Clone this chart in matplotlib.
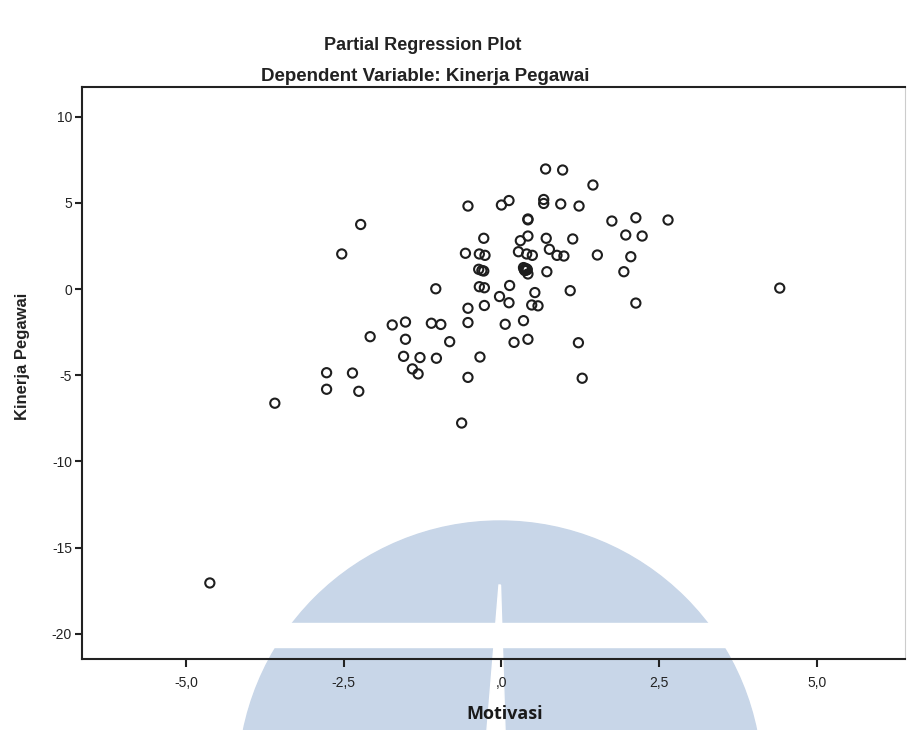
import matplotlib
matplotlib.use('Agg')
import matplotlib.pyplot as plt
from matplotlib.patches import Ellipse, Rectangle, Polygon

# residuals: Motivasi (x) vs Kinerja Pegawai (y)
motivasi = [
    -2.23, -2.53, 0.70, 0.97, 1.45, -0.53, 0.00, 0.12, 0.67, 0.67,
    0.94, 1.23, 1.75, 2.13, 2.64, 0.42, 0.42, -0.28, 0.30, 0.42,
    0.71, 1.13, 1.97, 2.23, -0.57, -0.35, -0.26, 0.27, 0.40, 0.49,
    0.76, 0.88, 0.99, 1.52, 2.05, -0.36, -0.31, -0.28, 0.35, 0.40,
    0.37, 0.42, 0.72, 1.94, -1.04, -0.35, -0.27, 0.13, 0.53, 1.09,
    -0.03, 0.12, 0.48, 0.58, 2.13, -0.53, -0.27, -1.73, -1.52, -1.11,
    -0.96, -0.53, 0.06, 0.35, -2.08, -1.52, -0.82, 0.20, 0.42, 1.22,
    -1.55, -1.29, -1.03, -0.34, -1.41, -1.32, -0.53, 1.28, -2.77, -2.36,
    -2.77, -2.26, -3.59, -0.63, -4.62, 4.41, 0.36, 0.39, 0.41, 0.38,
]
kinerja = [
    3.75, 2.04, 6.97, 6.91, 6.04, 4.82, 4.88, 5.14, 5.20, 4.97,
    4.94, 4.82, 3.95, 4.14, 4.01, 4.07, 4.02, 2.95, 2.81, 3.08,
    2.95, 2.91, 3.14, 3.08, 2.08, 2.04, 1.96, 2.17, 2.04, 1.96,
    2.31, 1.96, 1.92, 1.98, 1.88, 1.15, 1.08, 1.05, 1.25, 1.17,
    1.08, 0.88, 1.01, 1.01, 0.02, 0.14, 0.08, 0.21, -0.20, -0.09,
    -0.43, -0.79, -0.92, -0.97, -0.81, -1.11, -0.95, -2.08, -1.91, -1.98,
    -2.05, -1.94, -2.04, -1.83, -2.76, -2.91, -3.05, -3.09, -2.91, -3.11,
    -3.90, -3.97, -4.01, -3.94, -4.63, -4.92, -5.12, -5.17, -4.85, -4.87,
    -5.81, -5.93, -6.62, -7.77, -17.05, 0.06, 1.15, 1.10, 1.13, 1.20,
]

x_ticks = [-5, -2.5, 0, 2.5, 5]
x_tick_labels = ['-5,0', '-2,5', ',0', '2,5', '5,0']
y_ticks = [10, 5, 0, -5, -10, -15, -20]
y_tick_labels = ['10', '5', '0', '-5', '-10', '-15', '-20']

plt.rcParams['font.family'] = ['Liberation Sans', 'DejaVu Sans']

fig = plt.figure(figsize=(9.12, 7.30), dpi=100)
ax = fig.add_axes([0.0896, 0.0973, 0.9024, 0.7831])

ax.scatter(motivasi, kinerja, s=44, facecolors='none', edgecolors='#1e1e1e',
           linewidths=1.5, zorder=3)

ax.set_xlim(-6.65, 6.39)
ax.set_ylim(-21.46, 11.71)
ax.set_xticks(x_ticks)
ax.set_xticklabels(x_tick_labels)
ax.set_yticks(y_ticks)
ax.set_yticklabels(y_tick_labels)
ax.tick_params(axis='x', length=6, width=1.5, labelsize=10, pad=6, colors='#222')
ax.tick_params(axis='y', length=5, width=1.5, labelsize=10, pad=2, colors='#222')

for side in ['left', 'bottom', 'top']:
    ax.spines[side].set_linewidth(1.5)
    ax.spines[side].set_color('#222')
ax.spines['right'].set_linewidth(0.8)
ax.spines['right'].set_color('#cccccc')

ax.set_ylabel('Kinerja Pegawai', fontsize=12, fontweight='bold', color='#222')
ax.yaxis.set_label_coords(-0.063, 0.53)

fig.text(0.463, 0.938, 'Partial Regression Plot', ha='center', va='center',
         fontsize=13, fontweight='bold', color='#222')
fig.text(0.466, 0.895, 'Dependent Variable: Kinerja Pegawai', ha='center', va='center',
         fontsize=13.5, fontweight='bold', color='#222')

# faint watermark logo behind the lower part of the chart
W, H = 912.0, 730.0
blue = '#c8d6e8'
dome = Ellipse((500 / W, 1 - 783 / H), 2 * 262 / W, 2 * 262 / H,
               transform=fig.transFigure, color=blue, zorder=0.5, clip_on=False)
ax.add_artist(dome)
band = Rectangle((0.2, 1 - 647 / H), 0.6, (647 - 623) / H, transform=fig.transFigure,
                 color='white', zorder=0.6, clip_on=False)
ax.add_artist(band)
slit = Polygon([(499 / W, 1 - 585 / H), (500.5 / W, 1 - 585 / H),
                (505 / W, 0.0), (487 / W, 0.0)],
               transform=fig.transFigure, color='white', zorder=0.6, clip_on=False)
ax.add_artist(slit)

fig.text(505 / W, 1 - 714 / H, 'Motivasi', ha='center', va='center',
         fontsize=13, fontweight='bold', color='#1a1a1a',
         family=['Open Sans', 'DejaVu Sans'])

fig.savefig('out.png', dpi=100, facecolor='white')
